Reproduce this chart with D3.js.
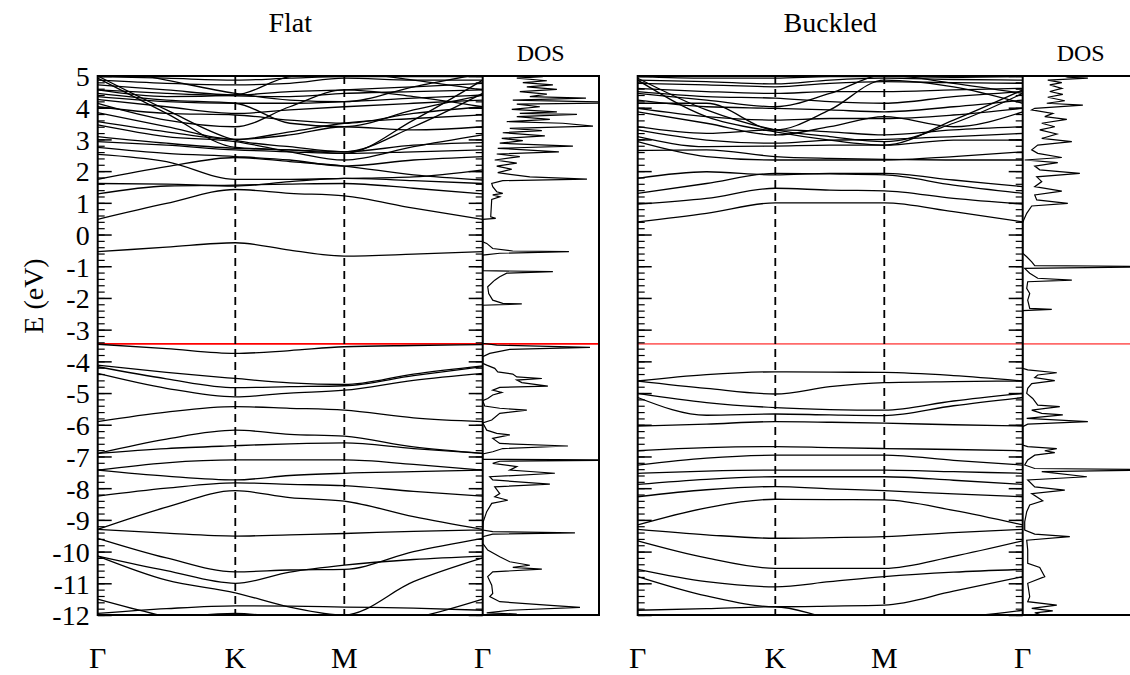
<!DOCTYPE html>
<html>
<head>
<meta charset="utf-8">
<script src="https://cdn.jsdelivr.net/npm/d3@7"></script>
</head>
<body style="margin:0">
<svg id="chart" width="1130" height="675" font-family="Liberation Serif"></svg>
<script>
// k-path sample points: Γ, mid, K, mid, M, mid, Γ
const kPoints = [0, 0.5, 1, 1.5, 2, 2.5, 3];
const kLabels = ["Γ", "K", "M", "Γ"];
const yTicks = d3.range(-12, 6);
const fermiLevel = -3.45;

// Flat: band energies (eV) at kPoints
const flatBands = [
  [-0.54, -0.40, -0.26, -0.49, -0.68, -0.62, -0.54],
  [0.48, 0.98, 1.42, 1.30, 1.22, 0.83, 0.48],
  [1.28, 1.53, 1.56, 1.59, 1.61, 1.46, 1.28],
  [1.61, 1.59, 1.53, 1.67, 1.77, 1.70, 1.61],
  [1.74, 2.14, 2.43, 2.30, 2.16, 1.88, 1.72],
  [2.53, 2.30, 1.74, 1.74, 1.77, 1.82, 2.04],
  [2.75, 2.56, 2.46, 2.35, 2.16, 2.35, 2.46],
  [2.93, 2.82, 2.67, 2.61, 2.56, 2.61, 2.67],
  [3.09, 2.88, 2.72, 2.67, 2.61, 2.82, 2.90],
  [3.46, 3.09, 2.93, 2.61, 2.35, 2.77, 3.14],
  [3.56, 3.24, 3.00, 3.14, 3.40, 3.30, 3.40],
  [3.84, 3.40, 3.00, 3.24, 3.51, 3.66, 3.77],
  [4.03, 3.82, 3.77, 3.61, 3.51, 3.82, 4.03],
  [4.26, 4.03, 3.82, 3.93, 4.03, 4.14, 4.24],
  [4.35, 4.19, 4.14, 4.14, 4.19, 4.30, 4.40],
  [4.56, 4.45, 4.37, 4.35, 4.45, 4.51, 4.56],
  [4.72, 4.56, 4.40, 4.51, 4.56, 4.66, 4.77],
  [4.87, 4.77, 4.72, 4.77, 4.93, 4.87, 4.87],
  [4.98, 4.93, 4.87, 4.93, 4.98, 4.98, 4.98],
  [5.00, 3.93, 2.98, 2.77, 2.61, 3.40, 4.45],
  [4.93, 3.82, 2.75, 2.67, 2.56, 3.61, 4.87],
  [4.56, 4.35, 4.40, 4.98, 5.10, 4.87, 4.56],
  [4.14, 3.61, 3.40, 4.03, 4.56, 4.35, 4.03],
  [4.45, 4.24, 4.14, 3.51, 3.40, 3.93, 4.40],
  [5.30, 4.87, 4.45, 4.24, 4.19, 4.66, 5.08],
  [-3.46, -3.60, -3.75, -3.66, -3.54, -3.50, -3.47],
  [-4.12, -4.35, -4.54, -4.68, -4.73, -4.40, -4.14],
  [-4.17, -4.55, -4.83, -4.80, -4.77, -4.45, -4.17],
  [-4.38, -4.85, -5.12, -5.00, -4.91, -4.60, -4.38],
  [-5.90, -5.60, -5.43, -5.48, -5.54, -5.78, -5.90],
  [-6.90, -6.45, -6.17, -6.30, -6.36, -6.70, -6.90],
  [-6.90, -6.75, -6.66, -6.60, -6.57, -6.75, -6.90],
  [-7.43, -7.20, -7.11, -7.11, -7.11, -7.25, -7.43],
  [-7.43, -7.62, -7.74, -7.60, -7.53, -7.48, -7.43],
  [-8.25, -8.00, -7.83, -7.88, -7.92, -8.10, -8.25],
  [-9.30, -8.60, -8.08, -8.30, -8.41, -8.90, -9.30],
  [-9.30, -9.42, -9.51, -9.47, -9.43, -9.36, -9.32],
  [-9.58, -10.20, -10.64, -10.58, -10.56, -10.00, -9.58],
  [-10.14, -10.60, -11.00, -10.65, -10.43, -10.25, -10.14],
  [-10.14, -10.90, -11.30, -11.75, -12.00, -10.95, -10.20],
  [-11.50, -12.05, -12.40, -12.40, -12.40, -12.10, -11.50],
  [-11.95, -11.80, -11.71, -11.72, -11.75, -11.78, -11.85],
  [-12.30, -12.10, -11.95, -12.10, -12.30, -12.30, -12.30]
];

// Buckled: band energies (eV) at kPoints
const buckledBands = [
  [0.40, 0.67, 1.00, 1.00, 1.00, 0.72, 0.40],
  [0.96, 1.14, 1.46, 1.40, 1.38, 1.14, 0.96],
  [1.30, 1.61, 1.93, 1.91, 1.88, 1.56, 1.30],
  [1.77, 1.98, 1.88, 1.93, 1.93, 1.72, 1.51],
  [2.65, 2.67, 2.46, 2.40, 2.37, 2.35, 2.35],
  [2.93, 2.46, 2.35, 2.35, 2.35, 2.46, 2.61],
  [3.09, 2.77, 2.79, 2.82, 2.82, 2.98, 2.98],
  [3.30, 2.98, 2.88, 2.98, 3.00, 3.09, 3.19],
  [3.40, 3.19, 3.30, 3.24, 3.14, 3.30, 3.40],
  [3.87, 3.51, 3.14, 3.40, 3.72, 3.40, 3.87],
  [3.98, 3.72, 3.61, 3.66, 3.66, 3.77, 3.98],
  [4.24, 4.03, 3.98, 3.93, 3.87, 4.03, 4.24],
  [4.51, 4.35, 4.30, 4.19, 4.14, 4.35, 4.51],
  [4.61, 4.51, 4.45, 4.51, 4.51, 4.56, 4.61],
  [4.77, 4.72, 4.66, 4.77, 4.82, 4.79, 4.77],
  [4.87, 4.82, 4.75, 4.87, 4.93, 4.89, 4.87],
  [4.98, 4.93, 4.93, 4.98, 4.98, 4.96, 4.98],
  [4.93, 3.93, 3.30, 3.09, 2.93, 3.51, 4.45],
  [4.87, 3.72, 3.24, 2.98, 2.82, 3.61, 4.56],
  [4.14, 4.14, 3.30, 3.93, 4.87, 4.66, 4.14],
  [4.45, 4.24, 4.03, 4.45, 5.03, 4.77, 4.45],
  [-4.62, -4.42, -4.33, -4.34, -4.35, -4.45, -4.62],
  [-4.62, -4.85, -5.03, -4.80, -4.67, -4.64, -4.62],
  [-5.01, -5.30, -5.46, -5.52, -5.54, -5.25, -5.01],
  [-5.14, -5.70, -5.66, -5.69, -5.71, -5.40, -5.14],
  [-6.04, -5.98, -5.90, -5.92, -5.95, -6.00, -6.04],
  [-6.82, -6.72, -6.69, -6.72, -6.75, -6.78, -6.82],
  [-7.27, -7.05, -6.96, -6.96, -6.96, -7.12, -7.27],
  [-7.53, -7.46, -7.43, -7.43, -7.43, -7.48, -7.53],
  [-7.88, -7.72, -7.64, -7.64, -7.64, -7.75, -7.88],
  [-8.27, -8.05, -7.95, -8.02, -8.08, -8.18, -8.27],
  [-9.16, -8.62, -8.35, -8.36, -8.37, -8.70, -9.16],
  [-9.30, -9.47, -9.58, -9.56, -9.53, -9.40, -9.30],
  [-9.66, -10.20, -10.53, -10.53, -10.53, -10.15, -9.66],
  [-10.56, -10.95, -11.11, -10.95, -10.79, -10.65, -10.56],
  [-10.79, -11.40, -11.74, -11.72, -11.69, -11.25, -10.79],
  [-11.85, -11.80, -11.74, -12.10, -12.30, -12.10, -11.85]
];

// DOS curves: [energy (eV), DOS (arb.)]
const flatDos = [
  [5.10, 4.0], [4.98, 6.0], [4.93, 3.4], [4.85, 6.4], [4.79, 4.0], [4.72, 7.0], [4.66, 4.4],
  [4.58, 7.4], [4.51, 3.7], [4.43, 6.4], [4.35, 4.7], [4.30, 10.3], [4.24, 3.0], [4.16, 15],
  [4.11, 3.4], [4.03, 5.7], [3.95, 2.9], [3.87, 7.4], [3.82, 3.7], [3.79, 9.4], [3.72, 3.4],
  [3.63, 6.7], [3.56, 2.4], [3.51, 8.0], [3.42, 11.0], [3.35, 2.7], [3.28, 5.9], [3.21, 2.0],
  [3.11, 6.2], [3.03, 1.9], [2.96, 4.0], [2.88, 1.7], [2.79, 9.0], [2.72, 1.5], [2.61, 7.6],
  [2.54, 1.4], [2.46, 3.7], [2.35, 1.2], [2.25, 3.4], [2.16, 1.4], [2.06, 2.9], [1.95, 1.5],
  [1.82, 4.7], [1.75, 10.4], [1.70, 2.0], [1.61, 0.9], [1.51, 1.0], [1.35, 1.4], [1.30, 2.0],
  [1.25, 1.0], [1.19, 1.7], [1.11, 0.9], [0.56, 0.8], [0.51, 1.3], [0.48, 0], [-0.23, 0],
  [-0.28, 0.4], [-0.44, 1.0], [-0.52, 3.0], [-0.54, 8.6], [-0.59, 1.7], [-0.65, 0], [-1.14, 0],
  [-1.17, 7.0], [-1.22, 2.4], [-1.33, 1.7], [-1.44, 1.2], [-1.65, 0.5], [-1.86, 0.6],
  [-2.07, 1.0], [-2.17, 2.0], [-2.19, 3.9], [-2.23, 0], [-3.43, 0], [-3.49, 1.4], [-3.56, 10.7],
  [-3.62, 2.7], [-3.75, 0.7], [-3.85, 0], [-4.06, 0], [-4.12, 0.4], [-4.22, 1.2], [-4.33, 1.5],
  [-4.40, 3.0], [-4.49, 3.4], [-4.54, 5.9], [-4.59, 3.4], [-4.67, 3.9], [-4.78, 6.5],
  [-4.82, 1.7], [-4.91, 1.0], [-4.98, 1.9], [-5.06, 1.0], [-5.17, 0.5], [-5.24, 0],
  [-5.41, 0.2], [-5.48, 1.7], [-5.54, 4.4], [-5.64, 1.7], [-5.85, 0.9], [-5.94, 0],
  [-6.17, 0.4], [-6.27, 1.4], [-6.32, 2.7], [-6.43, 1.0], [-6.59, 1.7], [-6.67, 8.5],
  [-6.75, 2.0], [-6.85, 1.0], [-6.92, 0], [-7.09, 0], [-7.11, 15], [-7.15, 1.7], [-7.22, 1.0],
  [-7.32, 3.4], [-7.43, 2.7], [-7.53, 7.2], [-7.64, 0.7], [-7.74, 1.0], [-7.87, 6.7],
  [-7.96, 1.2], [-8.17, 1.7], [-8.27, 1.2], [-8.38, 2.5], [-8.48, 0.9], [-8.74, 0.4],
  [-9.06, 0.05], [-9.32, 0], [-9.37, 1.0], [-9.41, 9.2], [-9.45, 1.0], [-9.53, 0], [-9.74, 0],
  [-9.95, 0.5], [-10.16, 1.7], [-10.32, 2.7], [-10.43, 4.7], [-10.50, 3.0], [-10.55, 5.9],
  [-10.64, 1.0], [-10.79, 0.5], [-11.06, 0.9], [-11.32, 1.0], [-11.42, 0.7], [-11.58, 1.7],
  [-11.69, 6.4], [-11.76, 9.7], [-11.85, 2.7], [-11.93, 0.4], [-11.97, 3.4], [-12.03, 0.7]
];

const buckledDos = [
  [5.10, 3.0], [4.96, 4.5], [4.93, 6.5], [4.87, 2.5], [4.79, 3.9], [4.72, 2.7], [4.61, 3.9],
  [4.51, 2.7], [4.42, 4.0], [4.33, 2.5], [4.22, 4.2], [4.14, 2.4], [4.08, 6.0], [3.98, 1.2],
  [3.93, 0.9], [3.82, 3.0], [3.72, 2.2], [3.63, 4.4], [3.51, 1.9], [3.40, 3.2], [3.30, 1.7],
  [3.17, 3.4], [3.03, 1.9], [2.93, 4.9], [2.82, 1.5], [2.67, 0.9], [2.56, 1.5], [2.43, 3.9],
  [2.35, 0.2], [2.27, 3.5], [2.16, 1.2], [2.04, 1.7], [1.93, 5.7], [1.82, 1.4], [1.67, 1.9],
  [1.51, 1.2], [1.37, 3.9], [1.25, 1.2], [1.09, 1.4], [0.98, 4.5], [0.90, 0.9], [0.67, 0.4],
  [0.46, 0.1], [0.37, 0], [-0.59, 0], [-0.70, 0.4], [-0.86, 0.9], [-0.98, 1.2], [-1.01, 15],
  [-1.07, 0.2], [-1.22, 0.7], [-1.38, 1.5], [-1.44, 4.9], [-1.49, 0.5], [-1.70, 0.4],
  [-1.86, 0.7], [-2.07, 0.5], [-2.33, 0.7], [-2.36, 2.9], [-2.40, 0], [-4.22, 0], [-4.27, 0.5],
  [-4.36, 3.4], [-4.43, 1.5], [-4.51, 1.2], [-4.61, 3.2], [-4.70, 0.9], [-4.85, 0.5],
  [-5.01, 0.4], [-5.17, 1.0], [-5.38, 1.5], [-5.43, 3.7], [-5.54, 0.9], [-5.64, 1.9],
  [-5.69, 4.0], [-5.80, 0.4], [-5.90, 6.5], [-5.98, 0.5], [-6.06, 0], [-6.64, 0], [-6.69, 0.5],
  [-6.75, 3.4], [-6.82, 2.2], [-6.88, 3.2], [-6.96, 1.2], [-7.11, 0.5], [-7.27, 0.2],
  [-7.38, 1.2], [-7.42, 15], [-7.48, 1.9], [-7.64, 6.4], [-7.74, 0.5], [-7.96, 1.2],
  [-8.06, 4.2], [-8.17, 0.9], [-8.40, 2.0], [-8.53, 0.7], [-8.74, 0.4], [-9.06, 0.2],
  [-9.32, 0.2], [-9.45, 1.2], [-9.53, 4.7], [-9.64, 0.4], [-9.95, 0.5], [-10.37, 0.5],
  [-10.50, 1.7], [-10.79, 2.2], [-11.00, 0.5], [-11.42, 0.7], [-11.58, 0.5], [-11.69, 3.4],
  [-11.79, 0.9], [-11.87, 3.0], [-11.93, 1.2], [-12.00, 1.9]
];

const svg = d3.select("#chart");
const plotTop = 76, plotBottom = 615;
const y = d3.scaleLinear().domain([-12, 5]).range([plotBottom, plotTop]);

// text helper: serif font set directly on each label
function label(parent, x, yy, size, str, anchor) {
  return parent.append("text")
    .attr("x", x).attr("y", yy)
    .attr("font-size", size)
    .attr("text-anchor", anchor || "middle")
    .style("font-family", "Liberation Serif")
    .text(str);
}

const panels = [
  { title: "Flat", bands: flatBands, dos: flatDos, xs: [97.7, 235.3, 344.3, 482.7], dosRight: 599, labels: true, boxRight: true, fermiColor: "#ff0000" },
  { title: "Buckled", bands: buckledBands, dos: buckledDos, xs: [637.7, 775.3, 884.3, 1022.7], dosRight: 1139, labels: false, boxRight: false, fermiColor: "#ff6a6a" }
];

panels.forEach((p, pi) => {
  const x = d3.scaleLinear().domain([0, 1, 2, 3]).range(p.xs);
  const x0 = p.xs[0], x1 = p.xs[3];
  const dosX = d3.scaleLinear().domain([0, 11.6]).range([x1, p.dosRight]);
  const g = svg.append("g");

  svg.append("clipPath").attr("id", "clipBand" + pi)
    .append("rect").attr("x", x0).attr("y", plotTop).attr("width", x1 - x0).attr("height", plotBottom - plotTop);
  svg.append("clipPath").attr("id", "clipDos" + pi)
    .append("rect").attr("x", x1).attr("y", plotTop).attr("width", p.dosRight - x1).attr("height", plotBottom - plotTop);

  // fermi level
  g.append("line")
    .attr("x1", x0).attr("x2", p.dosRight)
    .attr("y1", y(fermiLevel)).attr("y2", y(fermiLevel))
    .attr("stroke", p.fermiColor).attr("stroke-width", 1.6);

  // bands
  const line = d3.line()
    .x((d, i) => x(kPoints[i]))
    .y(d => y(d))
    .curve(d3.curveMonotoneX);
  g.append("g").attr("clip-path", `url(#clipBand${pi})`)
    .selectAll("path").data(p.bands).join("path")
    .attr("d", line)
    .attr("fill", "none").attr("stroke", "#000").attr("stroke-width", 1.3);

  // high-symmetry dashed lines
  g.selectAll(".ksym").data([1, 2]).join("line")
    .attr("x1", d => x(d)).attr("x2", d => x(d))
    .attr("y1", plotTop).attr("y2", plotBottom)
    .attr("stroke", "#000").attr("stroke-width", 1.8)
    .attr("stroke-dasharray", "8,5");

  // DOS
  const dosLine = d3.line().x(d => dosX(d[1])).y(d => y(d[0]));
  g.append("path").attr("clip-path", `url(#clipDos${pi})`)
    .datum(p.dos).attr("d", dosLine)
    .attr("fill", "none").attr("stroke", "#000").attr("stroke-width", 1.2);

  // axes ticks (inside)
  const minor = d3.range(-12, 5.001, 0.2).map(v => +v.toFixed(1));
  const addAxis = (gen, xpos) => {
    g.append("g").attr("transform", `translate(${xpos},0)`)
      .call(gen.scale(y).tickValues(minor).tickSize(-7).tickFormat(""))
      .call(s => s.select(".domain").remove())
      .call(s => s.selectAll("text").remove())
      .call(s => s.selectAll("line").attr("stroke-width", 1.2));
    g.append("g").attr("transform", `translate(${xpos},0)`)
      .call(gen.scale(y).tickValues(yTicks).tickSize(-14).tickFormat(""))
      .call(s => s.select(".domain").remove())
      .call(s => s.selectAll("text").remove())
      .call(s => s.selectAll("line").attr("stroke-width", 1.5));
  };
  addAxis(d3.axisLeft(), x0);
  addAxis(d3.axisRight(), x1);

  // y tick labels
  if (p.labels) {
    yTicks.forEach(v => {
      label(g, x0 - 8, y(v), 28, String(v), "end").attr("dy", "0.37em");
    });
  }

  // frames
  g.append("rect").attr("x", x0).attr("y", plotTop).attr("width", x1 - x0).attr("height", plotBottom - plotTop)
    .attr("fill", "none").attr("stroke", "#000").attr("stroke-width", 2);
  g.append("path")
    .attr("d", p.boxRight
      ? `M${x1},${plotTop}H${p.dosRight}V${plotBottom}H${x1}`
      : `M${x1},${plotTop}H${p.dosRight}M${x1},${plotBottom}H${p.dosRight}`)
    .attr("fill", "none").attr("stroke", "#000").attr("stroke-width", 2);

  // k labels
  kLabels.forEach((k, i) => label(g, x(i), 668, 30, k));

  // titles
  label(g, (x0 + x1) / 2, 32, 28, p.title);
  label(g, x1 + 58, 61, 24, "DOS");
});

label(svg, 0, 0, 28, "E (eV)").attr("transform", "translate(43,296) rotate(-90)");
</script>
</body>
</html>
